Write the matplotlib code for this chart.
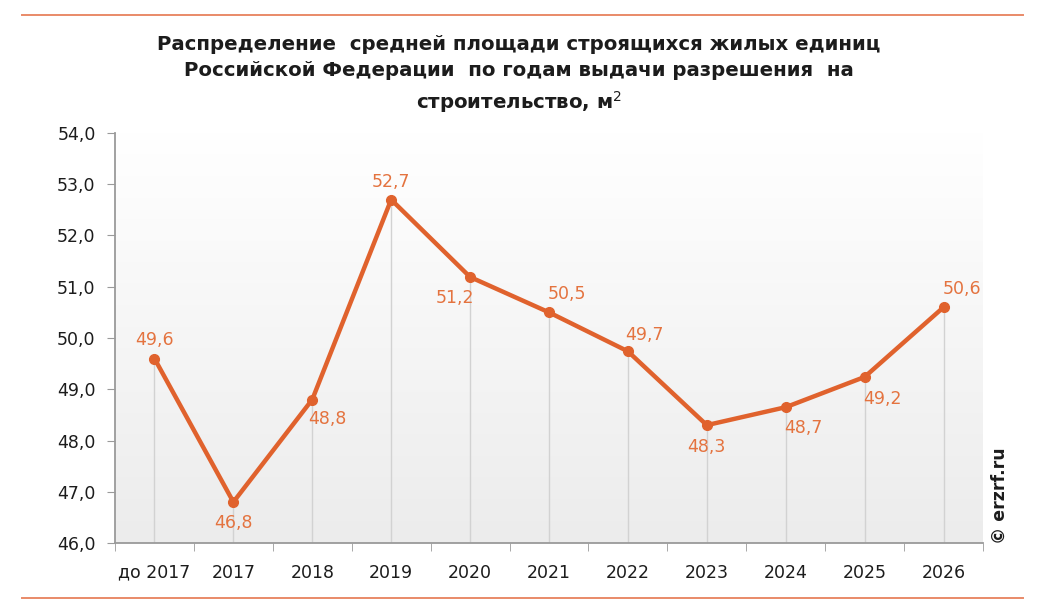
import numpy as np
import matplotlib; matplotlib.use("Agg")
import matplotlib.pyplot as plt
from matplotlib.lines import Line2D

categories = ["до 2017", "2017", "2018", "2019", "2020", "2021", "2022", "2023", "2024", "2025", "2026"]
values = [49.6, 46.8, 48.8, 52.7, 51.19, 50.5, 49.74, 48.3, 48.65, 49.24, 50.6]
yticks = [46, 47, 48, 49, 50, 51, 52, 53, 54]
# label placement relative to the point: (dx pts, dy pts)
offsets = [(0, 13), (0, -15), (11, -14), (0, 13), (-11, -15), (13, 13), (12, 12), (0, -16),
           (13, -15), (13, -16), (13, 13)]
labels = [f"{v:.1f}".replace(".", ",") for v in values]
labels[8] = "48,7"

ORANGE = "#E0622D"; LBL = "#E4733F"; DARK = "#1c1c1c"; GREY = "#9a9a9a"
plt.rcParams['font.family'] = ['DejaVu Sans']

fig = plt.figure(figsize=(10.38, 6.10), dpi=100)
ax = fig.add_axes([0.1108, 0.1098, 0.8362, 0.6722])
x = np.arange(len(categories))
ax.set_xlim(-0.5, len(categories) - 0.5); ax.set_ylim(46, 54)

# gradient background: white at top, light grey at bottom
grad = np.linspace(0, 1, 256).reshape(-1, 1)
ax.imshow(grad, extent=(-0.5, len(categories) - 0.5, 46, 54), aspect="auto", origin="upper",
          cmap=matplotlib.colors.LinearSegmentedColormap.from_list("g", ["#ffffff", "#ececec"]), zorder=0)

ax.vlines(x, 46, values, color="#d2d2d2", lw=1, zorder=1)
ax.plot(x, values, "-o", color=ORANGE, lw=3.2, ms=7, zorder=3)
for xi, v, lab, (dx, dy) in zip(x, values, labels, offsets):
    ax.annotate(lab, (xi, v), xytext=(dx, dy), textcoords="offset points",
                ha="center", va="center", fontsize=12.5, color=LBL, zorder=4)

for s in ("top", "right"): ax.spines[s].set_visible(False)
for s in ("left", "bottom"): ax.spines[s].set_color(GREY); ax.spines[s].set_linewidth(1.3)
ax.set_yticks(yticks); ax.set_yticklabels([f"{t},0" for t in yticks])
ax.set_xticks(x); ax.set_xticklabels(categories)
ax.set_xticks(np.arange(-0.5, len(categories)), minor=True)
ax.tick_params(axis="x", which="major", length=0, pad=25, labelsize=12.5, labelcolor=DARK)
ax.tick_params(axis="x", which="minor", length=6, color=GREY, direction="out")
ax.tick_params(axis="y", length=6, color=GREY, labelsize=12.5, labelcolor=DARK, pad=8)
for t in ax.get_xticklabels(): t.set_verticalalignment("baseline")

fig.text(0.5, 0.877, "Распределение  средней площади строящихся жилых единиц\n"
         "Российской Федерации  по годам выдачи разрешения  на\nстроительство, м$^2$",
         ha="center", va="center", fontsize=14.2, fontweight="bold", color=DARK, linespacing=1.46)
fig.text(0.963, 0.108, "© erzrf.ru", rotation=90, ha="center", va="bottom", fontsize=12.5,
         fontweight="bold", color=DARK)
fig.add_artist(Line2D([0.021, 0.986], [0.975, 0.975], color="#E98A68", lw=1.4))
fig.add_artist(Line2D([0.021, 0.986], [0.019, 0.019], color="#E98A68", lw=1.4))
fig.savefig("out.png", dpi=100)
